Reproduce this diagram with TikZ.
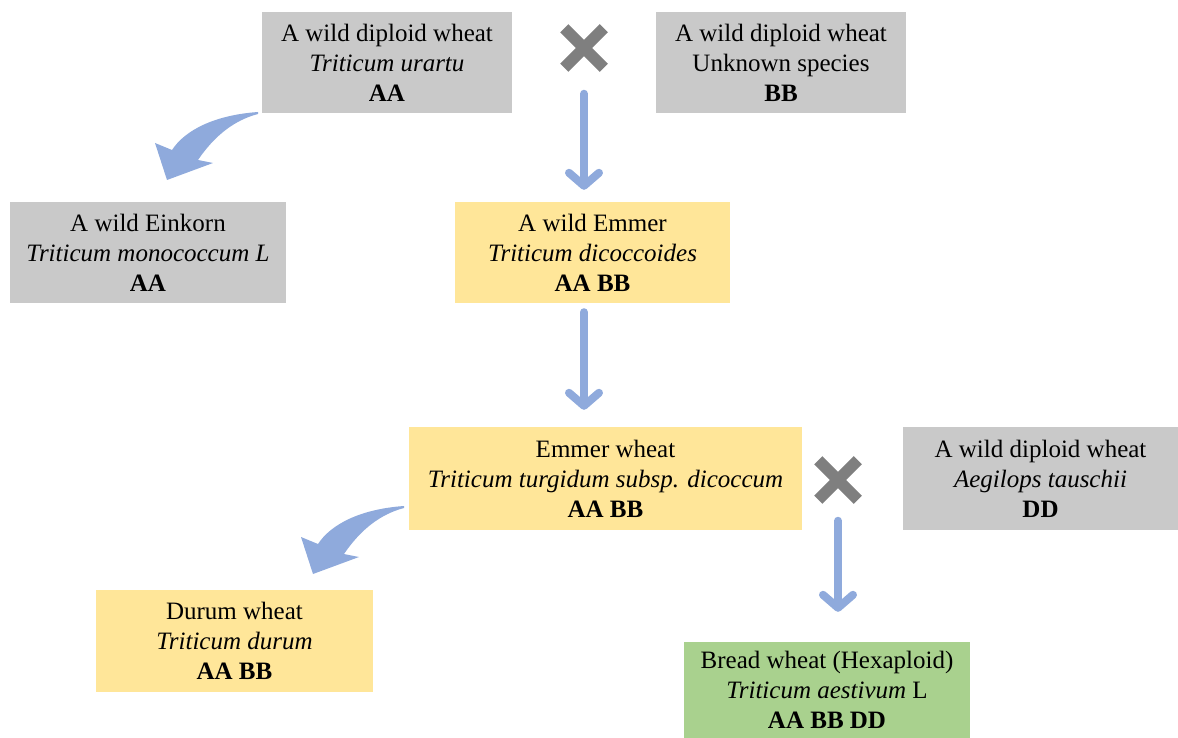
\documentclass[tikz,border=0pt]{standalone}
\usepackage{fontspec}
\setmainfont{Liberation Serif}
\usetikzlibrary{arrows.meta,shapes.misc,calc}
\definecolor{boxgray}{HTML}{C9C9C9}
\definecolor{boxyellow}{HTML}{FFE699}
\definecolor{boxgreen}{HTML}{A9D18E}
\definecolor{arrblue}{HTML}{8FAADC}
\definecolor{crossgray}{HTML}{7F7F7F}
\tikzset{
  box/.style={inner sep=0pt, align=center, font=\fontsize{25}{30}\selectfont},
  gbox/.style={box, fill=boxgray},
  ybox/.style={box, fill=boxyellow},
  grbox/.style={box, fill=boxgreen},
  crossmark/.style={cross out, draw=crossgray, line width=11.5pt, minimum size=28pt, inner sep=0pt},
  arr/.style={draw=arrblue, line width=8pt, line cap=round, -{Straight Barb[length=13pt,width=30pt,round]}},
  bentarrow/.style={fill=arrblue}
}
\begin{document}
\begin{tikzpicture}[x=1pt,y=-1pt]
\useasboundingbox (0,0) rectangle (1178,738);
\node[gbox, minimum width=250pt, minimum height=101pt] (urartu) at (387,62.5)
  {A wild diploid wheat\\\textit{Triticum urartu}\\\textbf{AA}};
\node[gbox, minimum width=250pt, minimum height=101pt] (unknown) at (781,62.5)
  {A wild diploid wheat\\Unknown species\\\textbf{BB}};
\node[gbox, minimum width=276pt, minimum height=101pt] (einkorn) at (148,252.5)
  {A wild Einkorn\\\textit{Triticum monococcum L}\\\textbf{AA}};
\node[ybox, minimum width=275pt, minimum height=101pt] (wemmer) at (592.5,252.5)
  {A wild Emmer\\\textit{Triticum dicoccoides}\\\textbf{AA BB}};
\node[ybox, minimum width=393pt, minimum height=103pt] (emmer) at (605.5,478.5)
  {Emmer wheat\\\textit{Triticum turgidum subsp. dicoccum}\\\textbf{AA BB}};
\node[gbox, minimum width=275pt, minimum height=103pt] (tauschii) at (1040.5,478.5)
  {A wild diploid wheat\\\textit{Aegilops tauschii}\\\textbf{DD}};
\node[ybox, minimum width=277pt, minimum height=102pt] (durum) at (234.5,641)
  {Durum wheat\\\textit{Triticum durum}\\\textbf{AA BB}};
\node[grbox, minimum width=286pt, minimum height=96pt] (bread) at (827,690)
  {Bread wheat (Hexaploid)\\\textit{Triticum aestivum} L\\\textbf{AA BB DD}};
\node[crossmark] (cross1) at (584,48) {};
\node[crossmark] (cross2) at (838,480) {};
\draw[arr] ($(cross1.south)+(0,26)$) -- ($(cross1 |- wemmer.north)+(0,-12)$);
\draw[arr] ($(cross1 |- wemmer.south)+(0,9)$) -- ($(cross1 |- emmer.north)+(0,-17)$);
\draw[arr] ($(cross2.south)+(0,21)$) -- ($(cross2 |- bread.north)+(0,-30)$);
\fill[bentarrow] (258,112) .. controls (215,115) and (185,130) .. (172,150) -- (155,143) -- (167,180) -- (213,163) -- (198,160) .. controls (215,135) and (235,120) .. (258,114) -- cycle;
\begin{scope}[shift={(146,394)}]
\fill[bentarrow] (258,112) .. controls (215,115) and (185,130) .. (172,150) -- (155,143) -- (167,180) -- (213,163) -- (198,160) .. controls (215,135) and (235,120) .. (258,114) -- cycle;
\end{scope}
\end{tikzpicture}
\end{document}
